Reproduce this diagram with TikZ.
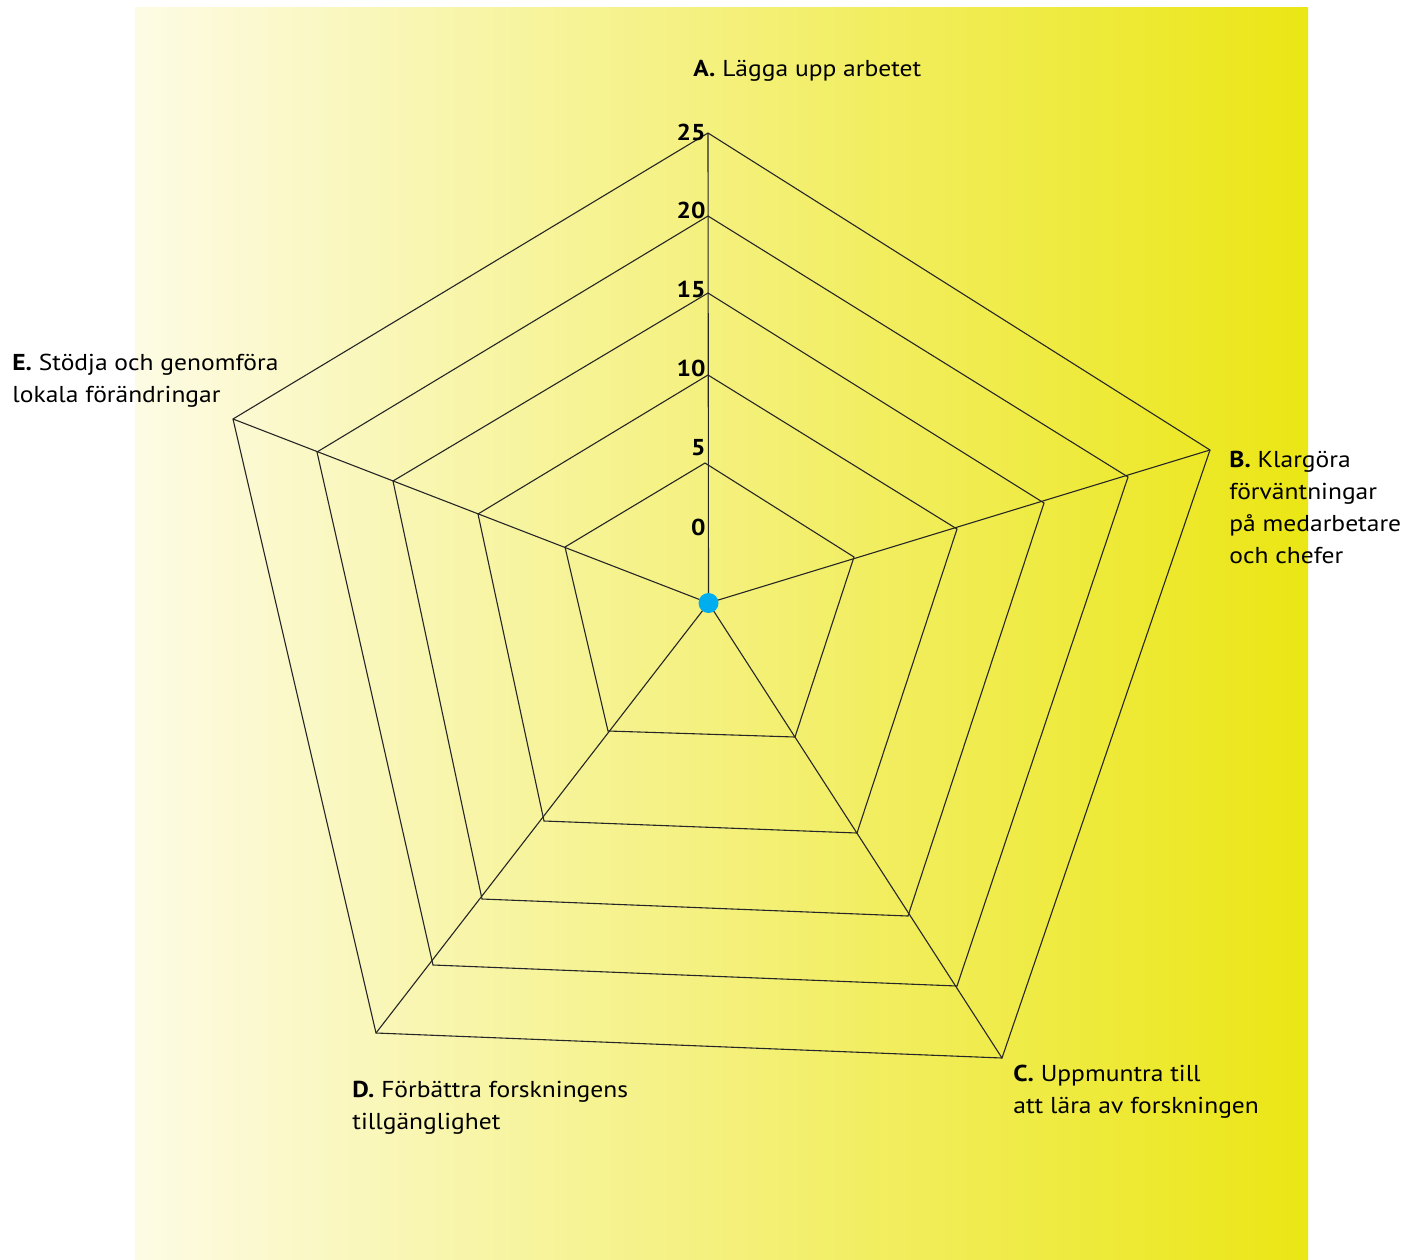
\documentclass[tikz,border=0pt]{standalone}
\usepackage{fontspec}
\setmainfont[FakeStretch=1.11]{PT Sans}
\definecolor{paleyellow}{RGB}{253,251,228}
\definecolor{deepyellow}{RGB}{235,230,20}
\definecolor{dotblue}{RGB}{0,174,239}
\tikzset{
  grid line/.style={draw=black!85, line width=0.55pt, line join=miter},
  axis label/.style={anchor=north west, inner sep=0pt, align=left, font=\fontsize{11.5}{16}\selectfont},
  level label/.style={anchor=east, inner sep=0pt, font=\fontsize{11.5}{14}\selectfont\bfseries},
  dot/.style={shape=circle, fill=dotblue, inner sep=0pt, minimum size=10pt}
}
\begin{document}
\begin{tikzpicture}[x=0.5pt,y=-0.5pt]
\useasboundingbox (0,0) rectangle (1419,1259);
\shade[left color=paleyellow, right color=deepyellow] (135,7) rectangle (1308,1259);
% corners of the pentagons, inner (1) to outer (5)
\coordinate (A1) at (705,463);  \coordinate (B1) at (854,557);  \coordinate (C1) at (795,737);  \coordinate (D1) at (608,731);  \coordinate (E1) at (565,547);
\coordinate (A2) at (708,375);  \coordinate (B2) at (957,529);  \coordinate (C2) at (857,833);  \coordinate (D2) at (544,821);  \coordinate (E2) at (478,514);
\coordinate (A3) at (708,293);  \coordinate (B3) at (1044,503); \coordinate (C3) at (908,916);  \coordinate (D3) at (482,899);  \coordinate (E3) at (393,481);
\coordinate (A4) at (708,216);  \coordinate (B4) at (1128,477); \coordinate (C4) at (957,986);  \coordinate (D4) at (433,965);  \coordinate (E4) at (317,452);
\coordinate (A5) at (708,133);  \coordinate (B5) at (1210,450); \coordinate (C5) at (1002,1058); \coordinate (D5) at (376,1033); \coordinate (E5) at (233,419);
\foreach \i in {1,...,5}
  \draw[grid line] (A\i) -- (B\i) -- (C\i) -- (D\i) -- (E\i) -- cycle;
\coordinate (O) at (708.5,603);
\foreach \v in {A,B,C,D,E}
  \draw[grid line] (O) -- (\v5);
\node[dot] (hub) at (O) {};
% scale
\foreach \n/\y in {25/132,20/210,15/289,10/368,5/448,0/527}
  \node[level label] (n\n) at (706,\y) {\n};
% axis names
\node[axis label] (labA) at (693,60) {\textbf{A.} Lägga upp arbetet};
\node[axis label] (labB) at (1229,451) {\textbf{B.} Klargöra\\förväntningar\\på medarbetare\\och chefer};
\node[axis label] (labC) at (1013,1065) {\textbf{C.} Uppmuntra till\\att lära av forskningen};
\node[axis label] (labD) at (352,1081) {\textbf{D.} Förbättra forskningens\\tillgänglighet};
\node[axis label] (labE) at (12,354) {\textbf{E.} Stödja och genomföra\\lokala förändringar};
\end{tikzpicture}
\end{document}
